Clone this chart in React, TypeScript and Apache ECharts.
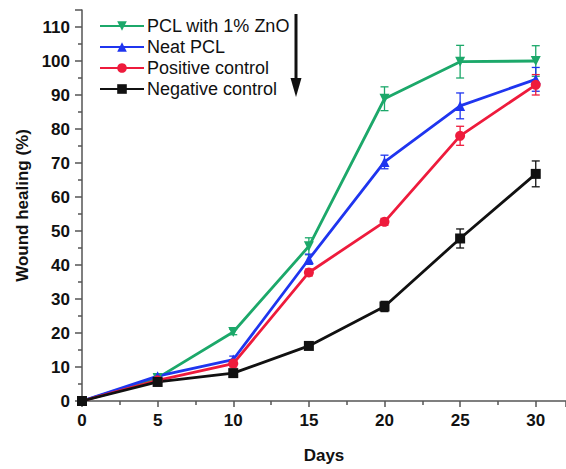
import React, { useEffect, useRef } from "react";
import * as echarts from "echarts";

const days = [0, 5, 10, 15, 20, 25, 30];
const znoValues = [0, 6.8, 20.3, 45.5, 88.9, 99.8, 100];
const znoErr = [0, 0.5, 0.8, 2.5, 3.5, 4.8, 4.5];
const neatValues = [0, 7.3, 12.2, 41.7, 70.3, 86.8, 94.6];
const neatErr = [0, 0.5, 1, 1.5, 2, 3.8, 3.5];
const posValues = [0, 6.1, 11, 37.8, 52.7, 78, 93];
const posErr = [0, 0.5, 1, 1, 1, 2.8, 3];
const negValues = [0, 5.6, 8.2, 16.2, 27.8, 47.8, 66.8];
const negErr = [0, 0.4, 0.5, 0.6, 1.5, 2.8, 3.8];

const yTicks = [0, 10, 20, 30, 40, 50, 60, 70, 80, 90, 100, 110];
const xTicks = [0, 5, 10, 15, 20, 25, 30];

const FONT = "Liberation Sans, Arial, sans-serif";

type S = { name: string; values: number[]; err: number[]; color: string; symbol: string; rotate?: number };

const seriesDefs: S[] = [
  { name: "PCL with 1% ZnO", values: znoValues, err: znoErr, color: "#1ca86a", symbol: "triangle", rotate: 180 },
  { name: "Neat PCL", values: neatValues, err: neatErr, color: "#1f35ef", symbol: "triangle" },
  { name: "Positive control", values: posValues, err: posErr, color: "#ee1b3c", symbol: "circle" },
  { name: "Negative control", values: negValues, err: negErr, color: "#111111", symbol: "rect" },
];

export default function App() {
  const ref = useRef<HTMLDivElement>(null);
  useEffect(() => {
    if (!ref.current) return;
    document.body.style.margin = "0";
    const chart = echarts.init(ref.current, undefined, { renderer: "svg" });
    const series: any[] = [];
    seriesDefs.forEach((s) => {
      series.push({
        name: s.name,
        type: "line",
        data: days.map((d, i) => [d, s.values[i]]),
        symbol: s.symbol,
        symbolRotate: s.rotate || 0,
        symbolSize: 10,
        showSymbol: true,
        lineStyle: { color: s.color, width: 2.8 },
        itemStyle: { color: s.color },
        z: 3,
      });
      series.push({
        name: s.name + " err",
        type: "custom",
        data: days.map((d, i) => [d, s.values[i] - s.err[i], s.values[i] + s.err[i]]),
        renderItem: (params: any, api: any) => {
          const x = api.value(0);
          const lo = api.coord([x, api.value(1)]);
          const hi = api.coord([x, api.value(2)]);
          const w = 4;
          const st = { stroke: s.color, lineWidth: 1.3 };
          return {
            type: "group",
            children: [
              { type: "line", shape: { x1: lo[0], y1: lo[1], x2: hi[0], y2: hi[1] }, style: st },
              { type: "line", shape: { x1: lo[0] - w, y1: lo[1], x2: lo[0] + w, y2: lo[1] }, style: st },
              { type: "line", shape: { x1: hi[0] - w, y1: hi[1], x2: hi[0] + w, y2: hi[1] }, style: st },
            ],
          };
        },
        encode: { x: 0, y: [1, 2] },
        z: 2,
      });
    });

    chart.setOption({
      animation: false,
      backgroundColor: "#ffffff",
      textStyle: { fontFamily: FONT },
      grid: { left: 82, right: 0, top: 10, bottom: 62, containLabel: false },
      legend: {
        data: seriesDefs.map((s) => s.name),
        orient: "vertical",
        left: 94,
        top: 12,
        itemWidth: 44,
        itemHeight: 12,
        itemGap: 3,
        textStyle: { fontFamily: FONT, fontSize: 18, color: "#111", padding: [0, 0, 0, -2] },
      },
      xAxis: {
        type: "value",
        min: 0,
        max: 32,
        interval: 5,
        name: "Days",
        nameLocation: "middle",
        nameGap: 46,
        nameTextStyle: { fontFamily: FONT, fontSize: 17, fontWeight: "bold", color: "#111" },
        axisLine: { show: true, onZero: false, lineStyle: { color: "#555", width: 1.5 } },
        axisTick: { show: true, inside: false, length: 6, lineStyle: { color: "#555", width: 1.5 } },
        minorTick: { show: true, splitNumber: 2, length: 4, lineStyle: { color: "#555", width: 1.5 } },
        axisLabel: {
          showMaxLabel: false,
          fontFamily: FONT,
          fontSize: 17,
          fontWeight: "bold",
          color: "#111",
          margin: 11,
          formatter: (v: number) => (xTicks.includes(v) ? String(v) : ""),
        },
        splitLine: { show: false },
      },
      yAxis: {
        type: "value",
        min: 0,
        max: 115,
        interval: 10,
        name: "Wound healing (%)",
        nameLocation: "middle",
        nameGap: 49,
        nameTextStyle: { fontFamily: FONT, fontSize: 17, fontWeight: "bold", color: "#111" },
        axisLine: { show: true, onZero: false, lineStyle: { color: "#555", width: 1.5 } },
        axisTick: { show: true, inside: false, length: 7, lineStyle: { color: "#555", width: 1.5 } },
        minorTick: { show: true, splitNumber: 2, length: 4, lineStyle: { color: "#555", width: 1.5 } },
        axisLabel: {
          showMaxLabel: false,
          fontFamily: FONT,
          fontSize: 17,
          fontWeight: "bold",
          color: "#111",
          margin: 12,
          formatter: (v: number) => (yTicks.includes(v) ? String(v) : ""),
        },
        splitLine: { show: false },
      },
      graphic: [
        { type: "line", shape: { x1: 296, y1: 14, x2: 296, y2: 82 }, style: { stroke: "#111", lineWidth: 3 }, z: 10 },
        { type: "polygon", shape: { points: [[290.5, 78], [301.5, 78], [296, 97]] }, style: { fill: "#111" }, z: 10 },
      ],
      series,
    });
    return () => chart.dispose();
  }, []);
  return <div ref={ref} style={{ width: 566, height: 469 }} />;
}
